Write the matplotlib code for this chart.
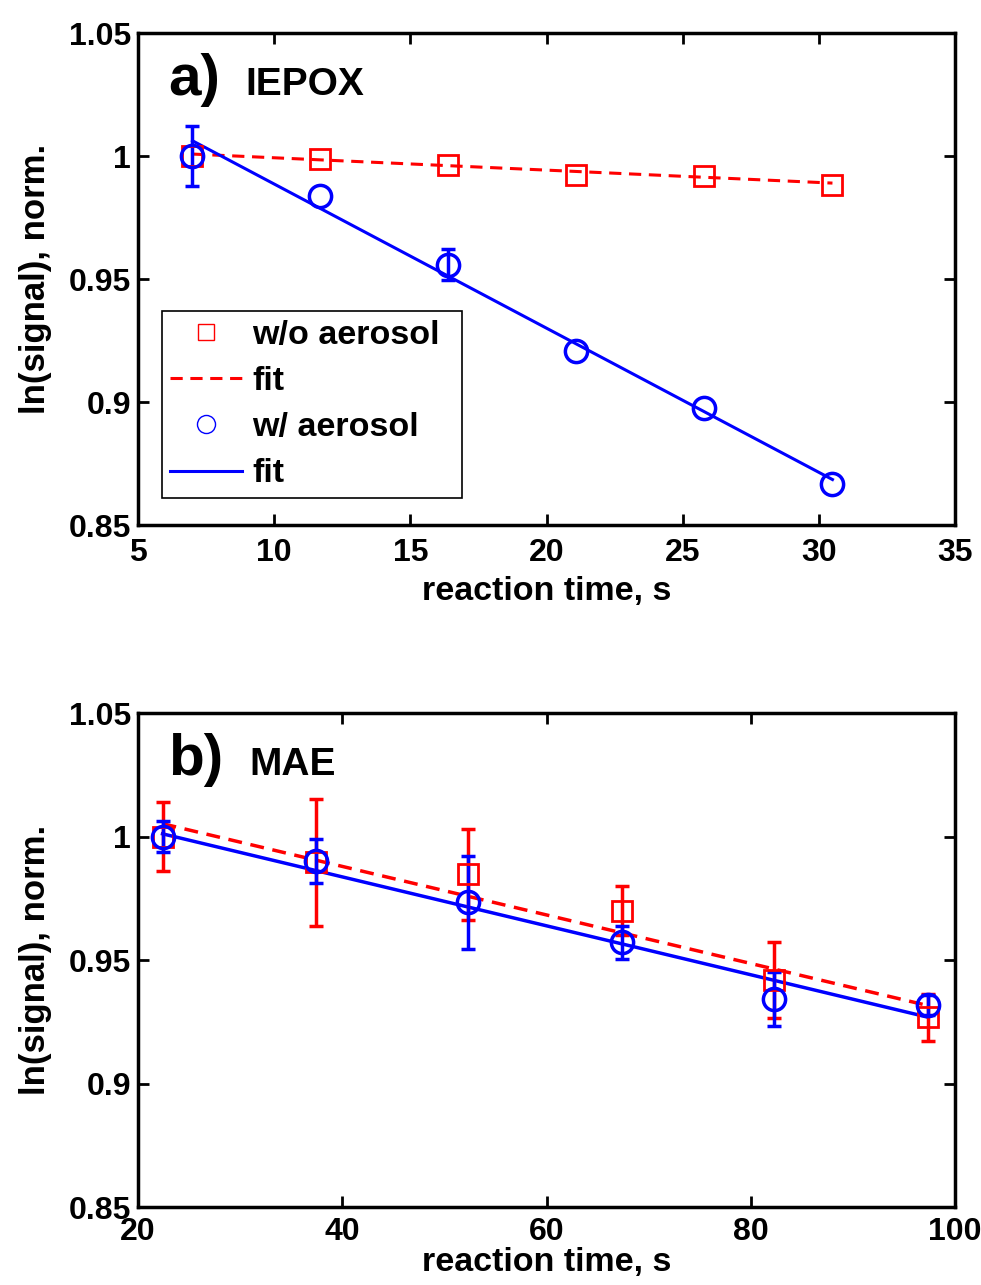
import matplotlib
matplotlib.use("Agg")
import matplotlib.pyplot as plt
from matplotlib.lines import Line2D

plt.rcParams['font.family'] = ['Liberation Sans', 'DejaVu Sans']
plt.rcParams['font.weight'] = 'bold'

# ---- panel a) IEPOX ----
a_time = [7.0, 11.7, 16.4, 21.1, 25.8, 30.5]
a_noaer = [1.0, 0.9988, 0.9965, 0.9924, 0.9920, 0.9883]
a_noaer_err = [0.0, 0.0, 0.0, 0.0, 0.0, 0.0]
a_aer = [1.0, 0.9839, 0.9558, 0.9208, 0.8977, 0.8668]
a_aer_err = [0.0122, 0.0, 0.0063, 0.0, 0.0, 0.0]
a_fit_t = [7.0, 30.5]
a_fit_noaer = [1.0008, 0.9890]
a_fit_aer = [1.0062, 0.8685]

# ---- panel b) MAE ----
b_time = [22.4, 37.4, 52.3, 67.4, 82.3, 97.4]
b_noaer = [1.0, 0.9895, 0.9847, 0.9700, 0.9418, 0.9268]
b_noaer_err = [0.0138, 0.0259, 0.0183, 0.0099, 0.0153, 0.0095]
b_aer = [1.0, 0.9902, 0.9734, 0.9571, 0.9343, 0.9319]
b_aer_err = [0.0061, 0.0089, 0.0188, 0.0066, 0.0110, 0.0040]
b_fit_t = [22.4, 97.4]
b_fit_noaer = [1.0052, 0.9315]
b_fit_aer = [1.0011, 0.9268]

a_xticks = [5, 10, 15, 20, 25, 30, 35]
b_xticks = [20, 40, 60, 80, 100]
yticks = [0.85, 0.9, 0.95, 1.0, 1.05]
ytick_labels = ['0.85', '0.9', '0.95', '1', '1.05']

RED = '#ff0000'
BLUE = '#0000ff'

fig = plt.figure(figsize=(9.81, 12.85), dpi=100)
ax1 = fig.add_axes([0.1407, 0.5914, 0.8328, 0.3829])
ax2 = fig.add_axes([0.1407, 0.0607, 0.8328, 0.3844])


def style(ax, xlim, xticks, xpad, lpad):
    ax.set_xlim(*xlim)
    ax.set_ylim(0.85, 1.05)
    ax.set_xticks(xticks)
    ax.set_xticklabels([str(t) for t in xticks])
    ax.set_yticks(yticks)
    ax.set_yticklabels(ytick_labels)
    ax.tick_params(direction='in', length=8, width=2, top=True, right=True,
                   labelsize=23)
    ax.tick_params(axis='x', pad=xpad)
    ax.tick_params(axis='y', pad=5)
    for s in ax.spines.values():
        s.set_linewidth(2.5)
    ax.set_xlabel('reaction time, s', fontsize=24.5, fontweight='bold', labelpad=lpad)
    ax.set_ylabel('ln(signal), norm.', fontsize=25, fontweight='bold', labelpad=12)


def marks(ax, t, noaer, noaer_err, aer, aer_err):
    for vals, errs, col in ((noaer, noaer_err, RED), (aer, aer_err, BLUE)):
        idx = [i for i, e in enumerate(errs) if e > 0]
        if idx:
            ax.errorbar([t[i] for i in idx], [vals[i] for i in idx],
                        yerr=[errs[i] for i in idx], fmt='none', ecolor=col,
                        elinewidth=2.5, capsize=5, capthick=2.5)
    ax.plot(t, noaer, 's', mfc='none', mec=RED, ms=14, mew=2)
    ax.plot(t, aer, 'o', mfc='none', mec=BLUE, ms=16, mew=2.5)


# panel a
ax1.plot(a_fit_t, a_fit_noaer, '--', color=RED, lw=2.2, dashes=(4, 2.5))
ax1.plot(a_fit_t, a_fit_aer, '-', color=BLUE, lw=2.2)
marks(ax1, a_time, a_noaer, a_noaer_err, a_aer, a_aer_err)
style(ax1, (5, 35), a_xticks, 9, 6)
ax1.text(0.037, 0.905, 'a)', transform=ax1.transAxes, fontsize=42,
         fontweight='bold', va='center', ha='left')
ax1.text(0.131, 0.895, 'IEPOX', transform=ax1.transAxes, fontsize=28,
         fontweight='bold', va='center', ha='left')

handles = [
    Line2D([], [], ls='none', marker='s', mfc='none', mec=RED, ms=12, mew=1),
    Line2D([], [], ls='--', color=RED, lw=2.2, dashes=(4, 2.5)),
    Line2D([], [], ls='none', marker='o', mfc='none', mec=BLUE, ms=13, mew=1),
    Line2D([], [], ls='-', color=BLUE, lw=2.2),
]
labels = ['w/o aerosol', 'fit', 'w/ aerosol', 'fit']
leg = ax1.legend(handles, labels, loc='lower left',
                 bbox_to_anchor=(0.029, 0.055, 0.367, 0.376), mode='expand',
                 fontsize=24.5, frameon=True, fancybox=False, framealpha=1,
                 edgecolor='black', handlelength=2.1, handletextpad=0.3,
                 borderpad=0.25, labelspacing=0.45, borderaxespad=0)
leg.get_frame().set_linewidth(1.2)
for t in leg.get_texts():
    t.set_fontweight('bold')

# panel b
ax2.plot(b_fit_t, b_fit_noaer, '--', color=RED, lw=2.5, dashes=(4, 2.5))
ax2.plot(b_fit_t, b_fit_aer, '-', color=BLUE, lw=2.5)
marks(ax2, b_time, b_noaer, b_noaer_err, b_aer, b_aer_err)
style(ax2, (20, 100), b_xticks, 7, 0)
ax2.text(0.037, 0.905, 'b)', transform=ax2.transAxes, fontsize=42,
         fontweight='bold', va='center', ha='left')
ax2.text(0.136, 0.895, 'MAE', transform=ax2.transAxes, fontsize=28,
         fontweight='bold', va='center', ha='left')

fig.savefig('out.png', dpi=100)
